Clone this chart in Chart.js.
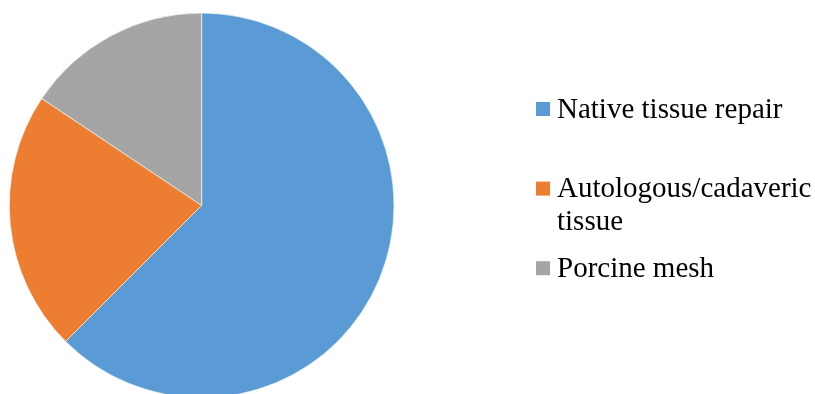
<!DOCTYPE html>
<html>
<head>
<meta charset="utf-8">
<script src="https://cdn.jsdelivr.net/npm/chart.js@4/dist/chart.umd.min.js"></script>
<style>
  html, body { margin: 0; padding: 0; background: #ffffff; }
  #wrap { width: 815px; height: 394px; overflow: hidden; position: relative; }
  #chart { display: block; }
</style>
</head>
<body>
<div id="wrap"><canvas id="chart" width="815" height="420"></canvas></div>
<script>
// Repair type shares (number of cases)
const categories = ["Native tissue repair", "Autologous/cadaveric tissue", "Porcine mesh"];
const caseCounts = [40, 14, 10];
const sliceColors = ["#5B9BD5", "#ED7D31", "#A5A5A5"];

// Legend drawn to the right of the pie, wrapping long labels
const sideLegend = {
  id: "sideLegend",
  afterDraw(chart) {
    const ctx = chart.ctx;
    const labels = chart.data.labels;
    const colors = chart.data.datasets[0].backgroundColor;
    const boxX = 536, box = 14, textX = 557;
    const firstBaseline = 117.5, entryStep = 79.6, lineStep = 33.3;
    const maxWidth = chart.width - textX - 1;
    ctx.save();
    ctx.font = "29px 'Liberation Serif', 'Times New Roman', serif";
    ctx.textBaseline = "alphabetic";
    ctx.textAlign = "left";
    labels.forEach((label, i) => {
      // wrap words into lines that fit
      const words = label.split(" ");
      const lines = [];
      let cur = "";
      words.forEach(w => {
        const test = cur ? cur + " " + w : w;
        if (cur && ctx.measureText(test).width > maxWidth) {
          lines.push(cur);
          cur = w;
        } else {
          cur = test;
        }
      });
      if (cur) lines.push(cur);
      const baseline = firstBaseline + i * entryStep;
      ctx.fillStyle = colors[i];
      ctx.fillRect(boxX, baseline - 8.5 - box / 2, box, box);
      ctx.fillStyle = "#000000";
      lines.forEach((ln, k) => ctx.fillText(ln, textX, baseline + k * lineStep));
    });
    ctx.restore();
  }
};

new Chart(document.getElementById("chart"), {
  type: "pie",
  data: {
    labels: categories,
    datasets: [{
      data: caseCounts,
      backgroundColor: sliceColors,
      borderColor: "#ffffff",
      borderWidth: 0.6
    }]
  },
  options: {
    responsive: false,
    animation: false,
    layout: { padding: { left: 9, right: 420.7, top: 12.7, bottom: 21.9 } },
    plugins: {
      legend: { display: false },
      tooltip: { enabled: false }
    }
  },
  plugins: [sideLegend]
});
</script>
</body>
</html>
